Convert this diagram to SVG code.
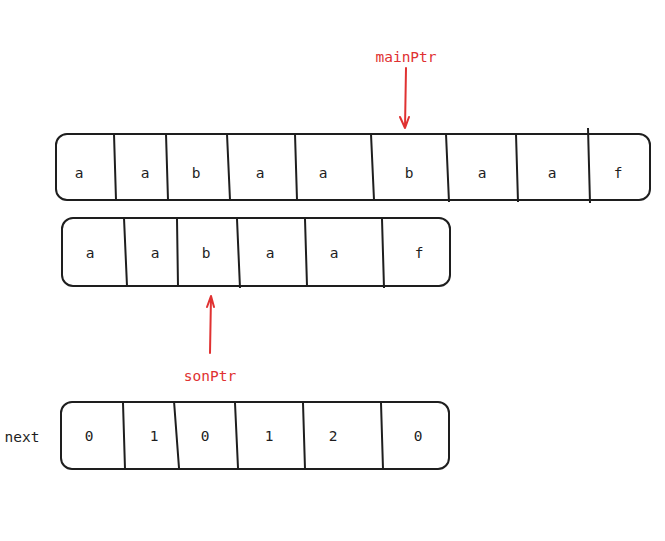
<svg xmlns="http://www.w3.org/2000/svg" width="665" height="541" viewBox="0 0 665 541">
<defs>
<style>
.box{fill:none;stroke:#1e1e1e;stroke-width:2}
.div{stroke:#1e1e1e;stroke-width:2;fill:none}
.t{font-family:"DejaVu Sans Mono","Liberation Mono",monospace;font-size:14.5px;fill:#1e1e1e;text-anchor:middle}
.r{font-family:"DejaVu Sans Mono","Liberation Mono",monospace;font-size:14.5px;fill:#e03131;text-anchor:middle}
.arr{stroke:#e03131;stroke-width:2;fill:none;stroke-linecap:round;stroke-linejoin:round}
</style>
</defs>
<rect width="665" height="541" fill="#ffffff"/>
<g id="main">
<rect class="box" x="56" y="134" width="594" height="66" rx="11"/>
<path class="div" d="M114 134L116 200M166 134L168 200M227 134L230 200M295 134L297 200M371 134L374 200M446 134L449 202M516 134L518 202M588 128L590 203"/>
<text class="t" x="79" y="178">a</text>
<text class="t" x="145" y="178">a</text>
<text class="t" x="196" y="178">b</text>
<text class="t" x="260" y="178">a</text>
<text class="t" x="323" y="178">a</text>
<text class="t" x="409" y="178">b</text>
<text class="t" x="482" y="178">a</text>
<text class="t" x="552" y="178">a</text>
<text class="t" x="618" y="178">f</text>
</g>
<g id="son">
<rect class="box" x="62" y="218" width="388" height="68" rx="11"/>
<path class="div" d="M124 218L127 286M177 219L178 286M237 219L240 288M305 219L307 286M382 219L384 288"/>
<text class="t" x="90" y="258">a</text>
<text class="t" x="155" y="258">a</text>
<text class="t" x="206" y="258">b</text>
<text class="t" x="270" y="258">a</text>
<text class="t" x="334" y="258">a</text>
<text class="t" x="419" y="258">f</text>
</g>
<g id="next">
<rect class="box" x="61" y="402" width="388" height="67" rx="11"/>
<path class="div" d="M123 403L125 469M174 401L179 468M235 403L238 468M303 403L305 469M381 403L383 469"/>
<text class="t" x="89" y="441">0</text>
<text class="t" x="154" y="441">1</text>
<text class="t" x="205" y="441">0</text>
<text class="t" x="269" y="441">1</text>
<text class="t" x="333" y="441">2</text>
<text class="t" x="418" y="441">0</text>
</g>
<g id="next-label"><text class="t" x="22" y="442">next</text></g>
<g id="mainPtr"><text class="r" x="406" y="62">mainPtr</text></g>
<g id="sonPtr"><text class="r" x="210" y="381">sonPtr</text></g>
<g id="connectors">
<path class="arr" d="M406 68L405 128M400 117L405 128L409 117"/>
<path class="arr" d="M210 353L211 296M207 307L211 296L214 307"/>
</g>
</svg>
